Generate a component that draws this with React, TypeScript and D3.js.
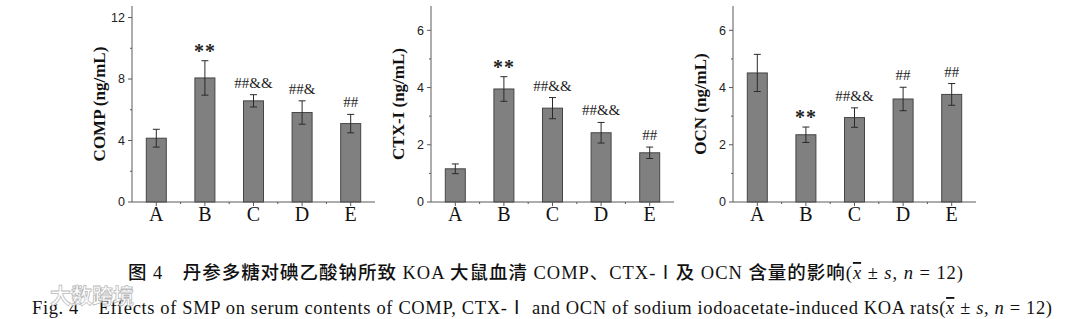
import React from "react";
import * as d3 from "d3";

const categories = ["A", "B", "C", "D", "E"];

const compMean = [4.15, 8.07, 6.58, 5.82, 5.1];
const compSd = [0.58, 1.12, 0.4, 0.76, 0.6];
const compMarks = ["", "**", "##&&", "##&", "##"];

const ctxMean = [1.16, 3.95, 3.28, 2.42, 1.72];
const ctxSd = [0.17, 0.43, 0.37, 0.36, 0.2];
const ctxMarks = ["", "**", "##&&", "##&&", "##"];

const ocnMean = [4.51, 2.35, 2.95, 3.6, 3.76];
const ocnSd = [0.65, 0.27, 0.34, 0.41, 0.38];
const ocnMarks = ["", "**", "##&&", "##", "##"];

const compTicks = [0, 4, 8, 12];
const compMinor = [2, 6, 10];
const smallTicks = [0, 2, 4, 6];
const smallMinor = [1, 3, 5];

const panels = [
  { title: "COMP (ng/mL)", mean: compMean, sd: compSd, marks: compMarks, ticks: compTicks, minor: compMinor, max: 12.75, x0: 132 },
  { title: "CTX-I (ng/mL)", mean: ctxMean, sd: ctxSd, marks: ctxMarks, ticks: smallTicks, minor: smallMinor, max: 6.85, x0: 431 },
  { title: "OCN (ng/mL)", mean: ocnMean, sd: ocnSd, marks: ocnMarks, ticks: smallTicks, minor: smallMinor, max: 6.85, x0: 733 },
];

const BASE = 202;
const TOP = 6;
const AXW = 243;
const serif = "'Liberation Serif', 'Times New Roman', serif";
const sans = "'Liberation Sans', Arial, sans-serif";
const cjk = "'Noto Sans CJK SC', sans-serif";

function Panel({ p }: { p: (typeof panels)[number] }) {
  const y = d3.scaleLinear().domain([0, p.max]).range([BASE, TOP]);
  const x = d3.scalePoint<string>().domain(categories).range([p.x0, p.x0 + AXW]).padding(0.5);
  const bw = 20;
  const cap = 3.5;
  const axisColor = "#5a5a5a";
  const mids = categories.slice(0, -1).map((c, i) => ((x(c) as number) + (x(categories[i + 1]) as number)) / 2);
  return (
    <g>
      {p.mean.map((m, i) => {
        const cx = x(categories[i]) as number;
        const hi = y(m + p.sd[i]);
        const lo = y(m - p.sd[i]);
        return (
          <g key={i}>
            <rect x={cx - bw / 2} y={y(m)} width={bw} height={BASE - y(m)} fill="#808080" stroke="#454545" strokeWidth={1} />
            <line x1={cx} x2={cx} y1={hi} y2={lo} stroke="#2a2a2a" strokeWidth={1} />
            <line x1={cx - cap} x2={cx + cap} y1={hi} y2={hi} stroke="#2a2a2a" strokeWidth={1} />
            <line x1={cx - cap} x2={cx + cap} y1={lo} y2={lo} stroke="#2a2a2a" strokeWidth={1} />
            {p.marks[i] === "**" ? (
              <text x={cx} y={hi - 3} textAnchor="middle" fontFamily={serif} fontSize={20} fontWeight="bold" letterSpacing={1} fill="#222">**</text>
            ) : p.marks[i] ? (
              <text x={cx} y={hi - 7} textAnchor="middle" fontFamily={serif} fontSize={15} fill="#222">{p.marks[i]}</text>
            ) : null}
          </g>
        );
      })}
      <line x1={p.x0} x2={p.x0} y1={TOP} y2={BASE} stroke={axisColor} strokeWidth={1} />
      <line x1={p.x0} x2={p.x0 + AXW} y1={BASE} y2={BASE} stroke={axisColor} strokeWidth={1} />
      {p.ticks.map((t) => (
        <g key={t}>
          <line x1={p.x0 - 4} x2={p.x0} y1={y(t)} y2={y(t)} stroke={axisColor} />
          <text x={p.x0 - 7} y={y(t)} dy="0.35em" textAnchor="end" fontFamily={sans} fontSize={12.5} fill="#222">{t}</text>
        </g>
      ))}
      {p.minor.map((t) => (
        <line key={t} x1={p.x0 - 2} x2={p.x0} y1={y(t)} y2={y(t)} stroke={axisColor} />
      ))}
      {categories.map((c) => (
        <g key={c}>
          <line x1={x(c) as number} x2={x(c) as number} y1={BASE} y2={BASE + 4} stroke={axisColor} />
          <text x={x(c) as number} y={221} textAnchor="middle" fontFamily={serif} fontSize={20} fill="#111">{c}</text>
        </g>
      ))}
      {mids.map((m, i) => (
        <line key={i} x1={m} x2={m} y1={BASE} y2={BASE + 2} stroke={axisColor} />
      ))}
      <text
        transform={`translate(${p.x0 - 33},${(BASE + TOP) / 2}) rotate(-90)`}
        dy="0.35em"
        textAnchor="middle"
        fontFamily={serif}
        fontWeight="bold"
        fontSize={17}
        fill="#111"
      >
        {p.title}
      </text>
    </g>
  );
}

export default function App() {
  return (
    <svg width={1080} height={319} style={{ position: "absolute", left: 0, top: 0, background: "#fff" }}>
      <rect width={1080} height={319} fill="#fff" />
      {panels.map((p, i) => (
        <Panel key={i} p={p} />
      ))}
      <text x={128} y={279} fontFamily={serif} fontSize={18.5} fill="#111" textLength={835} lengthAdjust="spacing">
        <tspan fontFamily={cjk} fontWeight={500}>图</tspan>
        <tspan> 4</tspan>
        <tspan fontFamily={cjk} fontWeight={500}>{"　丹参多糖对碘乙酸钠所致"}</tspan>
        <tspan> KOA </tspan>
        <tspan fontFamily={cjk} fontWeight={500}>大鼠血清</tspan>
        <tspan> COMP</tspan>
        <tspan fontFamily={cjk}>、</tspan>
        <tspan>CTX-</tspan>
        <tspan fontFamily={cjk}>Ⅰ</tspan>
        <tspan fontFamily={cjk} fontWeight={500}>及</tspan>
        <tspan> OCN </tspan>
        <tspan fontFamily={cjk} fontWeight={500}>含量的影响</tspan>
        <tspan>(</tspan>
        <tspan fontStyle="italic" textDecoration="overline">x</tspan>
        <tspan> ± </tspan>
        <tspan fontStyle="italic">s</tspan>
        <tspan>, </tspan>
        <tspan fontStyle="italic">n</tspan>
        <tspan> = 12)</tspan>
      </text>
      <text x={32} y={314} fontFamily={serif} fontSize={18.5} fill="#111" textLength={1020} lengthAdjust="spacing">
        <tspan>Fig. 4　Effects of SMP on serum contents of COMP, CTX-</tspan>
        <tspan fontFamily={cjk}>Ⅰ</tspan>
        <tspan> and OCN of sodium iodoacetate-induced KOA rats(</tspan>
        <tspan fontStyle="italic" textDecoration="overline">x</tspan>
        <tspan> ± </tspan>
        <tspan fontStyle="italic">s</tspan>
        <tspan>, </tspan>
        <tspan fontStyle="italic">n</tspan>
        <tspan> = 12)</tspan>
      </text>
      <text x={50} y={303} fontFamily={cjk} fontSize={21} fontWeight="bold" fill="#fff" fillOpacity={0.85} stroke="#bbb" strokeWidth={0.8}>
        大数跨境
      </text>
    </svg>
  );
}
